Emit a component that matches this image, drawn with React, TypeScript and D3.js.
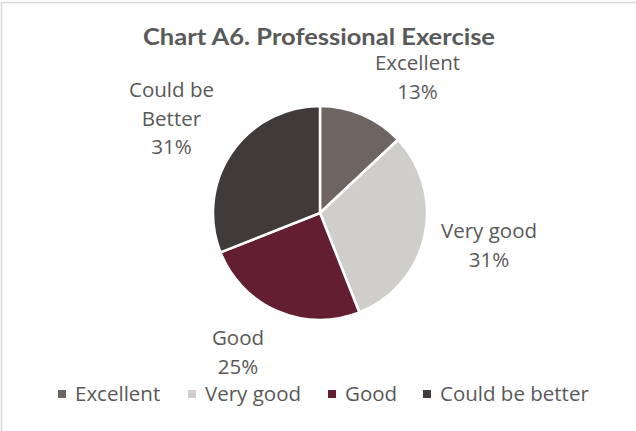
import React from "react";
import * as d3 from "d3";

const categories = ["Excellent", "Very good", "Good", "Could be better"];
const values = [13, 31, 25, 31];
const colors = ["#6e6563", "#d0cecb", "#641e32", "#403a3a"];
const labelLines = [["Excellent", "13%"], ["Very good", "31%"], ["Good", "25%"], ["Could be", "Better", "31%"]];
const labelPos = [[417.5, 70], [489, 238], [238, 345], [171.5, 97]];
const legendX = [58, 188, 328, 423];

const W = 636, H = 431;
const cx = 320, cy = 213, R = 107;

export default function App() {
  const pie = d3.pie<number>().sort(null).value((d) => d)(values);
  const arc = d3.arc<d3.PieArcDatum<number>>().innerRadius(0).outerRadius(R);
  const font = "'Open Sans', sans-serif";
  return (
    <svg width={W} height={H} style={{ position: "absolute", left: 0, top: 0 }}>
      <rect x={0} y={0} width={W} height={H} fill="#fff" />
      <rect x={1.5} y={2.5} width={W + 10} height={H + 10} fill="none" stroke="#d9d9d9" strokeWidth={1.5} />
      <text x={319} y={45} textAnchor="middle" fontFamily="Lato, sans-serif" fontWeight="bold" fontSize={22.5}
        fill="#595959" textLength={352} lengthAdjust="spacingAndGlyphs">
        Chart A6. Professional Exercise
      </text>
      <g transform={`translate(${cx},${cy})`}>
        {pie.map((p, i) => (
          <path key={i} d={arc(p) || ""} fill={colors[i]} stroke="#fff" strokeWidth={2.5} strokeLinejoin="round" />
        ))}
      </g>
      {labelLines.map((lines, i) => (
        <text key={i} textAnchor="middle" fontFamily={font} fontSize={20.5} fill="#595959">
          {lines.map((l, j) => (
            <tspan key={j} x={labelPos[i][0]} y={labelPos[i][1] + j * 28.5}>{l}</tspan>
          ))}
        </text>
      ))}
      {categories.map((c, i) => (
        <g key={c}>
          <rect x={legendX[i]} y={390} width={8} height={8} fill={colors[i]} />
          <text x={legendX[i] + 17} y={401} fontFamily={font} fontSize={20.5} fill="#595959">{c}</text>
        </g>
      ))}
    </svg>
  );
}
